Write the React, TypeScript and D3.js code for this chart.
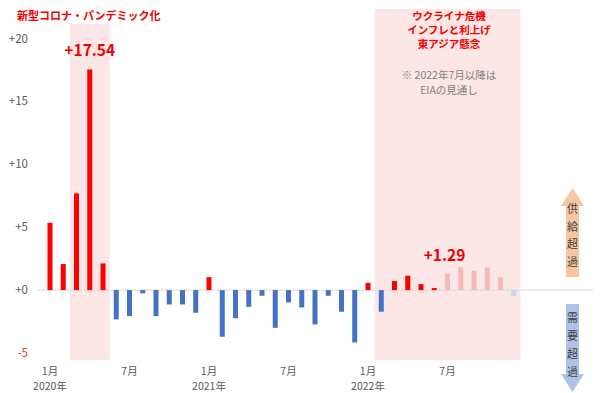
import React from 'react';
import * as d3 from 'd3';

const months = [
  '2020-01', '2020-02', '2020-03', '2020-04', '2020-05', '2020-06',
  '2020-07', '2020-08', '2020-09', '2020-10', '2020-11', '2020-12',
  '2021-01', '2021-02', '2021-03', '2021-04', '2021-05', '2021-06',
  '2021-07', '2021-08', '2021-09', '2021-10', '2021-11', '2021-12',
  '2022-01', '2022-02', '2022-03', '2022-04', '2022-05', '2022-06',
  '2022-07', '2022-08', '2022-09', '2022-10', '2022-11', '2022-12',
];
// supply - demand balance (million b/d)
const balance = [
  5.35, 2.07, 7.69, 17.54, 2.12, -2.33,
  -2.07, -0.26, -2.07, -1.14, -1.14, -1.8,
  1.03, -3.71, -2.23, -1.33, -0.45, -3.0,
  -0.98, -1.38, -2.73, -0.45, -1.72, -4.16,
  0.58, -1.72, 0.72, 1.14, 0.48, 0.16,
  1.29, 1.8, 1.54, 1.8, 1.01, -0.48,
];
const forecastFrom = '2022-07';
const yTicks = [-5, 0, 5, 10, 15, 20];
const monthTicks = ['2020-01', '2020-07', '2021-01', '2021-07', '2022-01', '2022-07'];
const callouts = [
  { month: '2020-04', text: '+17.54', dx: 0 },
  { month: '2022-07', text: '+1.29', dx: -3 },
];
const bands = [
  { from: '2020-03', to: '2020-05', top: 24 },
  { from: '2022-02', to: '2022-12', top: 9 },
];
const boxTitle = ['ウクライナ危機', 'インフレと利上げ', '東アジア懸念'];
const boxNote = ['※ 2022年7月以降は', 'EIAの見通し'];

const FONT = '"Noto Sans CJK JP", "Noto Sans", sans-serif';
const RED = '#F00000';

export default function App() {
  const width = 600, height = 393;
  const x = d3.scalePoint<string>().domain(months).range([43.375, 520.375]).padding(0.5);
  const y = d3.scaleLinear().domain([-5, 20]).range([353, 38.5]);
  const step = x.step();
  const barW = 5;
  const fi = months.indexOf(forecastFrom);

  const fmt = (v: number) => (v < 0 ? String(v) : '+' + v);

  const upArrow = 'M566,277 L566,206 L561,206 L572.5,188 L584,206 L579,206 L579,277 Z';
  const downArrow = 'M566,304 L566,374 L561,374 L572.5,392 L584,374 L579,374 L579,304 Z';

  return (
    <div style={{ position: 'fixed', left: 0, top: 0 }}>
      <svg width={width} height={height} style={{ display: 'block', fontFamily: FONT }}>
        <rect width={width} height={height} fill="#fff" />
        {bands.map((b, i) => (
          <rect key={i}
            x={x(b.from)! - step / 2}
            y={b.top}
            width={x(b.to)! - x(b.from)! + step}
            height={360 - b.top}
            fill="#FCE6E6" />
        ))}
        <line x1={38} x2={593} y1={y(0)} y2={y(0)} stroke="#D9D9D9" strokeWidth={1} />
        {yTicks.map(t => (
          <text key={t} x={28} y={y(t)} dy="0.35em" textAnchor="end" fontSize={11.5}
            fill={t < 0 ? '#E0412F' : '#595959'}>{fmt(t)}</text>
        ))}
        {months.map((m, i) => {
          const v = balance[i];
          const fc = i >= fi;
          const fill = v >= 0 ? (fc ? '#F6B9B9' : '#FF0000') : (fc ? '#C9D6EE' : '#4472C4');
          return (
            <rect key={m} x={x(m)! - barW / 2} y={y(Math.max(0, v))}
              width={barW} height={Math.abs(y(v) - y(0))} fill={fill} />
          );
        })}
        {monthTicks.map(m => {
          const [yr, mo] = m.split('-');
          return (
            <g key={m} fill="#595959" fontSize={10.5} textAnchor="middle">
              <text x={x(m)} y={375}>{+mo + '月'}</text>
              {mo === '01' && <text x={x(m)} y={390}>{yr + '年'}</text>}
            </g>
          );
        })}
        {callouts.map(c => (
          <text key={c.month} x={x(c.month)! + c.dx}
            y={y(balance[months.indexOf(c.month)]) - 13}
            textAnchor="middle" fontSize={15.5} fontWeight="bold" fill={RED}>{c.text}</text>
        ))}
        <text x={17} y={20} fontSize={11} fontWeight="bold" fill={RED}>新型コロナ・パンデミック化</text>
        <g textAnchor="middle" fontSize={10.5} fontWeight="bold" fill={RED}>
          {boxTitle.map((t, i) => (
            <text key={t} x={449} y={20 + i * 14}>{t}</text>
          ))}
        </g>
        <g textAnchor="middle" fontSize={10.5} fill="#7F7F7F">
          {boxNote.map((t, i) => (
            <text key={t} x={449} y={79 + i * 15}>{t}</text>
          ))}
        </g>
        <path d={upArrow} fill="#F8C6A3" />
        <path d={downArrow} fill="#AEC3E6" />
        <g textAnchor="middle" fontSize={11} fill="#404040">
          {['供', '給', '超', '過'].map((c, i) => (
            <text key={'u' + i} x={572.5} y={213 + i * 17.5}>{c}</text>
          ))}
          {['需', '要', '超', '過'].map((c, i) => (
            <text key={'d' + i} x={572.5} y={322 + i * 18}>{c}</text>
          ))}
        </g>
      </svg>
    </div>
  );
}
